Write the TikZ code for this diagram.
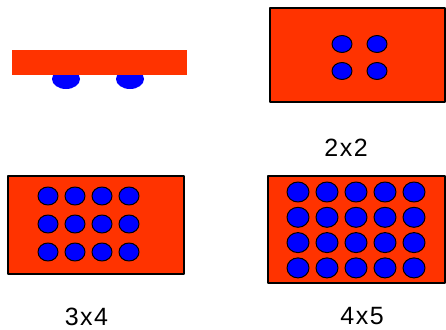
\documentclass[tikz,border=0pt]{standalone}
\usepackage{fontspec}
\newfontfamily\lblfont[LetterSpace=6]{Liberation Sans}
\usepackage{tikz}
\usetikzlibrary{positioning}
\definecolor{boardred}{HTML}{FF3300}
\definecolor{bumpblue}{HTML}{0000FF}

\begin{document}
\begin{tikzpicture}[x=1pt, y=-1pt, line join=round,
    board/.style={fill=boardred, draw=black, line width=1.2pt},
    bump/.style={fill=bumpblue, draw=black, line width=1pt},
    gridlabel/.style={font=\lblfont\fontsize{25}{30}\selectfont, inner sep=0pt}]
        \useasboundingbox (0,0) rectangle (446,329);
        % side view: bumps under the board
        \foreach \i in {66,130} { \fill[bumpblue] (\i,79) ellipse (14pt and 10pt); }
        \fill[boardred] (12,50) rectangle (187,75);
        % 2x2
        \draw[board] (270,8) rectangle (445,102);
        \foreach \i in {342,377} {
            \foreach \j in {44,71} { \draw[bump] (\i,\j) ellipse (10pt and 8.5pt); }
        }
        \node[gridlabel] (lbl22) at (346,147.5) {2x2};
        % 3x4
        \draw[board] (8,176) rectangle (184,274);
        \foreach \i in {0,...,3} {
            \foreach \j in {0,1,2} { \draw[bump] (48+27*\i,196+28*\j) ellipse (10pt and 9pt); }
        }
        \node[gridlabel] (lbl34) at (86.5,316.5) {3x4};
        % 4x5
        \draw[board] (268,176) rectangle (445,283);
        \foreach \i in {0,...,4} {
            \foreach \j in {0,...,3} { \draw[bump] (298+29*\i,192+25.3*\j) ellipse (11pt and 10pt); }
        }
        \node[gridlabel] (lbl45) at (362,316.5) {4x5};
    \end{tikzpicture}
\end{document}
